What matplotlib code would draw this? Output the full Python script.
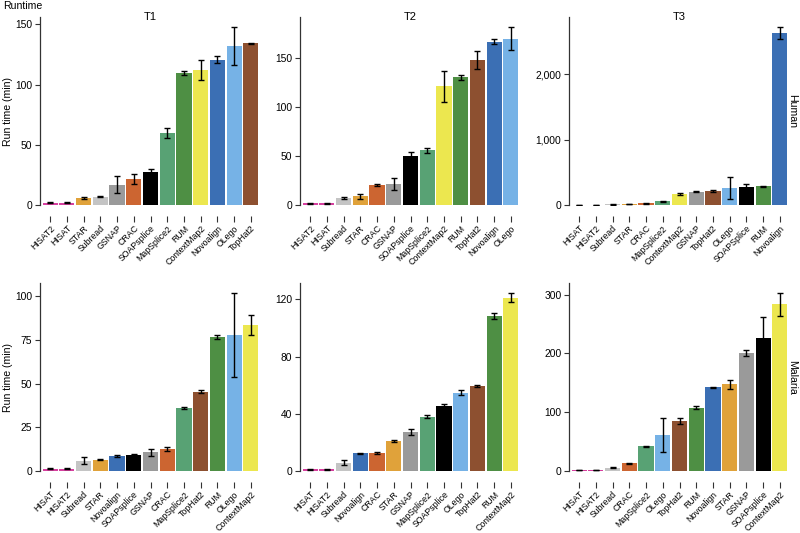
import matplotlib
matplotlib.use("Agg")
import matplotlib.pyplot as plt
from matplotlib.ticker import FuncFormatter, FixedLocator

plt.rcParams['font.family'] = ['Liberation Sans', 'DejaVu Sans']

# ---------------- data ----------------
t1_human_names = ["HISAT2", "HISAT", "STAR", "Subread", "GSNAP", "CRAC", "SOAPsplice",
                  "MapSplice2", "RUM", "ContextMap2", "Novoalign", "OLego", "TopHat2"]
t1_human_vals = [2.0, 2.0, 6.0, 6.8, 17.0, 21.5, 27.3, 59.8, 109.5, 112.2, 120.8, 132.0, 134.3]
t1_human_errs = [0.5, 0.5, 0.7, 0.5, 6.7, 4.0, 3.0, 4.0, 1.4, 8.6, 3.2, 16.0, 0.4]

t2_human_names = ["HISAT2", "HISAT", "Subread", "STAR", "CRAC", "GSNAP", "SOAPsplice",
                  "MapSplice2", "ContextMap2", "RUM", "TopHat2", "Novoalign", "OLego"]
t2_human_vals = [2.0, 2.0, 7.0, 8.7, 20.5, 21.0, 50.0, 55.7, 121.0, 130.3, 147.7, 166.8, 169.8]
t2_human_errs = [0.5, 0.5, 1.0, 3.0, 0.7, 6.2, 4.5, 2.5, 16.0, 2.4, 9.0, 2.4, 12.0]

t3_human_names = ["HISAT", "HISAT2", "Subread", "STAR", "CRAC", "MapSplice2", "ContextMap2",
                  "GSNAP", "TopHat2", "OLego", "SOAPSplice", "RUM", "Novoalign"]
t3_human_vals = [5, 5, 9, 13, 25, 58, 175, 204, 214, 255, 275, 285, 2630]
t3_human_errs = [2, 2, 3, 4, 5, 6, 15, 12, 8, 168, 40, 12, 95]

t1_malaria_names = ["HISAT", "HISAT2", "Subread", "STAR", "Novoalign", "SOAPsplice", "GSNAP",
                    "CRAC", "MapSplice2", "TopHat2", "RUM", "OLego", "ContextMap2"]
t1_malaria_vals = [1.4, 1.4, 5.8, 6.5, 8.5, 9.4, 10.6, 12.8, 36.0, 45.4, 76.8, 78.0, 83.4]
t1_malaria_errs = [0.3, 0.3, 2.0, 0.4, 0.4, 0.4, 2.0, 1.2, 0.4, 1.0, 1.3, 24.0, 5.7]

t2_malaria_names = ["HISAT", "HISAT2", "Subread", "Novoalign", "CRAC", "STAR", "GSNAP",
                    "MapSplice2", "SOAPsplice", "OLego", "TopHat2", "RUM", "ContextMap2"]
t2_malaria_vals = [1.2, 1.3, 5.7, 12.4, 12.7, 21.0, 27.2, 38.1, 45.2, 54.6, 59.3, 108.4, 121.3]
t2_malaria_errs = [0.3, 0.4, 1.8, 0.4, 0.5, 0.6, 2.2, 0.8, 1.6, 1.7, 0.8, 1.8, 3.3]

t3_malaria_names = ["HISAT", "HISAT2", "Subread", "CRAC", "MapSplice2", "OLego", "TopHat2",
                    "RUM", "Novoalign", "STAR", "GSNAP", "SOAPsplice", "ContextMap2"]
t3_malaria_vals = [2, 2, 5.5, 12.8, 41.8, 60.5, 84.8, 108, 142.6, 147.3, 200.7, 225.6, 283.5]
t3_malaria_errs = [0.5, 0.5, 1.0, 1.0, 1.2, 29.0, 5.0, 3.0, 0.7, 7.4, 5.0, 35.5, 19.6]

tool_colors = {
    "HISAT": "#d6409f", "HISAT2": "#d6409f", "STAR": "#e0a23a", "Subread": "#c4c4c4",
    "GSNAP": "#9a9a9a", "CRAC": "#cc6531", "SOAPsplice": "#000000", "SOAPSplice": "#000000",
    "MapSplice2": "#58a274", "RUM": "#4e8f44", "ContextMap2": "#ece74f",
    "Novoalign": "#3b6fb4", "OLego": "#76b2e6", "TopHat2": "#8d5030",
}

panels = [
    ("T1", t1_human_names, t1_human_vals, t1_human_errs, [0, 50, 100, 150]),
    ("T2", t2_human_names, t2_human_vals, t2_human_errs, [0, 50, 100, 150]),
    ("T3", t3_human_names, t3_human_vals, t3_human_errs, [0, 1000, 2000]),
    ("", t1_malaria_names, t1_malaria_vals, t1_malaria_errs, [0, 25, 50, 75, 100]),
    ("", t2_malaria_names, t2_malaria_vals, t2_malaria_errs, [0, 40, 80, 120]),
    ("", t3_malaria_names, t3_malaria_vals, t3_malaria_errs, [0, 100, 200, 300]),
]

W, H = 800, 533
fig = plt.figure(figsize=(W / 100, H / 100), dpi=100)

col_left = [40, 300, 569]
row_top = [17, 283]
ax_w, ax_h = 221, 188

for i, (title, names, vals, errs, yt) in enumerate(panels):
    r, c = divmod(i, 3)
    left = col_left[c] / W
    bottom = (H - row_top[r] - ax_h) / H
    ax = fig.add_axes([left, bottom, ax_w / W, ax_h / H])
    for s in ['top', 'right', 'bottom']:
        ax.spines[s].set_visible(False)
    ax.spines['bottom'].set_position(('outward', 8))
    ax.spines['left'].set_color('#333333')
    ax.spines['left'].set_linewidth(0.9)

    x = list(range(1, len(names) + 1))
    cols = [tool_colors[n] for n in names]
    ax.bar(x, vals, width=0.9, color=cols, edgecolor='none', zorder=2)
    ax.errorbar(x, vals, yerr=errs, fmt='none', ecolor='black', elinewidth=1.0,
                capsize=1.9, capthick=1.0, zorder=3)
    top = max(v + e for v, e in zip(vals, errs)) * 1.055
    ax.set_ylim(0, top)
    ax.set_xlim(0.4, len(names) + 0.6)
    ax.yaxis.set_major_locator(FixedLocator(yt))
    ax.yaxis.set_major_formatter(FuncFormatter(lambda v, p: f"{v:,.0f}"))
    ax.set_xticks(x)
    ax.set_xticklabels(names, rotation=45, ha='right', rotation_mode='anchor', fontsize=6.3)
    ax.tick_params(axis='x', length=4, width=0.8, color='#333333', pad=1.5)
    ax.tick_params(axis='y', length=3.5, width=0.8, color='#333333', labelsize=7.4, pad=2)
    if title:
        ax.text(0.5, 1.0, title, transform=ax.transAxes, ha='center', va='center', fontsize=8)
    if c == 0:
        ax.set_ylabel("Run time (min)", fontsize=7.6)
        ax.yaxis.set_label_coords(-(col_left[0] - 13) / ax_w, 0.5)

fig.text(3 / W, 1 - 6 / H, "Runtime", ha='left', va='center', fontsize=7.6)
fig.text(792 / W, 1 - (row_top[0] + ax_h / 2) / H, "Human", rotation=-90,
         ha='center', va='center', fontsize=7.6)
fig.text(792 / W, 1 - (row_top[1] + ax_h / 2) / H, "Malaria", rotation=-90,
         ha='center', va='center', fontsize=7.6)

fig.savefig("out.png", dpi=100)
